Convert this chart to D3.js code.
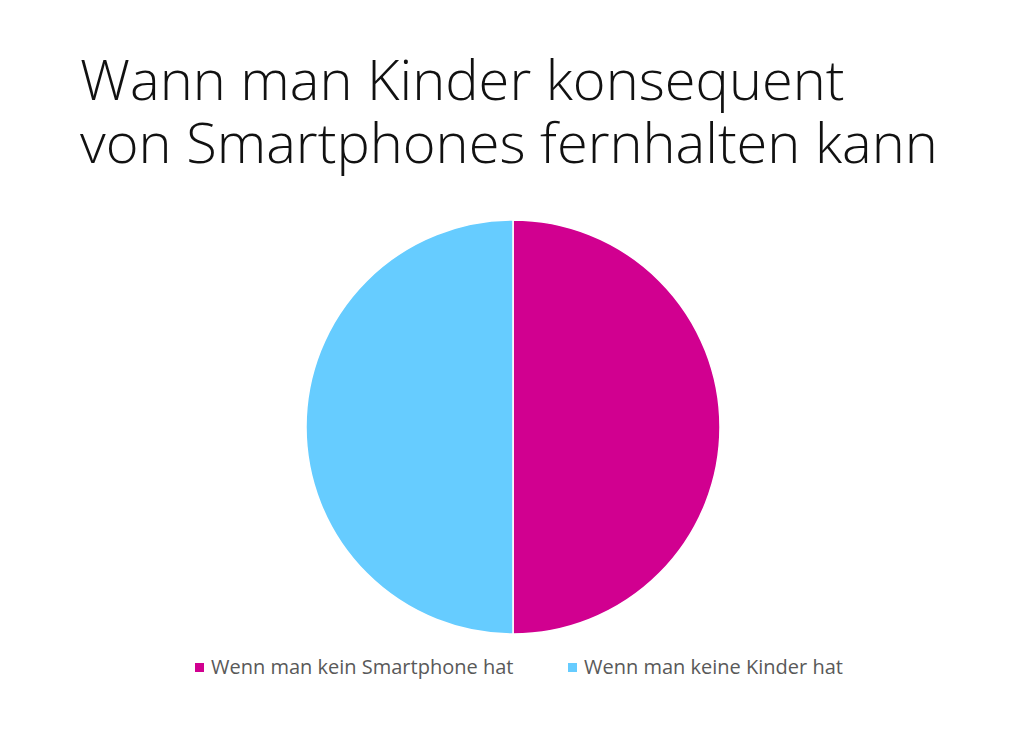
<!DOCTYPE html>
<html>
<head>
<meta charset="utf-8">
<script src="https://cdn.jsdelivr.net/npm/d3@7"></script>
<style>
  body { margin: 0; background: #fff; }
  svg { display: block; }
</style>
</head>
<body>
<div class="chart"></div>
<script>
var titleLines = ["Wann man Kinder konsequent", "von Smartphones fernhalten kann"];
var categories = ["Wenn man kein Smartphone hat", "Wenn man keine Kinder hat"];
var values = [50, 50];
var colors = ["#d10090", "#66ccff"];

var width = 1024, height = 748;
var svg = d3.select(".chart").append("svg")
  .attr("width", width)
  .attr("height", height);

// title as one text block, one tspan per line
svg.append("text")
  .attr("class", "title")
  .attr("x", 80)
  .attr("y", 100)
  .style("font-family", "'Open Sans', 'Noto Sans', sans-serif")
  .style("font-weight", 300)
  .style("font-size", "56px")
  .style("fill", "#111")
  .selectAll("tspan")
  .data(titleLines)
  .enter()
  .append("tspan")
  .attr("x", 80)
  .attr("dy", function (d, i) { return i === 0 ? 0 : 63; })
  .text(function (d) { return d; });

var radius = 207;
var pie = d3.pie().sort(null).value(function (d) { return d; });
var arc = d3.arc().innerRadius(0).outerRadius(radius);
var color = d3.scaleOrdinal().domain(categories).range(colors);

var g = svg.append("g").attr("transform", "translate(513,427)");
g.selectAll("path")
  .data(pie(values))
  .enter()
  .append("path")
  .attr("d", arc)
  .style("fill", function (d, i) { return color(categories[i]); })
  .style("stroke", "#fff")
  .style("stroke-width", 1.5);

var legendX = [195, 568];
var legend = svg.selectAll("g.legend")
  .data(categories)
  .enter()
  .append("g")
  .attr("class", "legend")
  .attr("transform", function (d, i) { return "translate(" + legendX[i] + ",663)"; });

legend.append("rect")
  .attr("width", 9)
  .attr("height", 9)
  .style("fill", function (d) { return color(d); });

legend.append("text")
  .attr("x", 16)
  .attr("y", 11)
  .style("font-family", "'Open Sans', 'Noto Sans', sans-serif")
  .style("font-size", "20px")
  .style("fill", "#595959")
  .text(function (d) { return d; });
</script>
</body>
</html>
